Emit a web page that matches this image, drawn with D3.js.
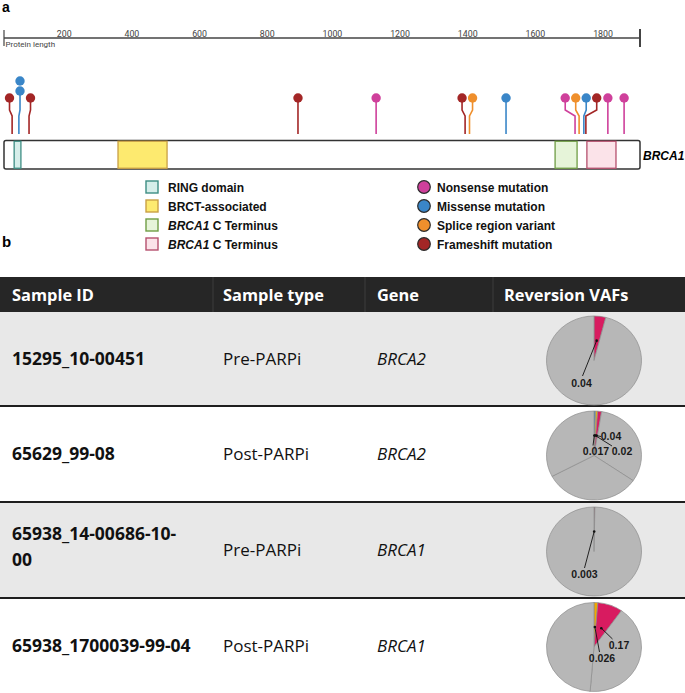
<!DOCTYPE html>
<html><head><meta charset="utf-8">
<script src="https://cdn.jsdelivr.net/npm/d3@7/dist/d3.min.js"></script>
<style>body{margin:0;background:#fff}svg{display:block}</style>
</head><body><svg id="c" width="685" height="693"></svg>
<script>
// ---------- data: panel a ----------
const proteinLength = 1880;
const axisTicks = [200, 400, 600, 800, 1000, 1200, 1400, 1600, 1800];
const geneName = "BRCA1";
const domainNames = ["RING domain", "BRCT-associated", "BRCA1 C Terminus", "BRCA1 C Terminus"];
const domainStart = [30, 337, 1629, 1723];
const domainEnd = [50, 482, 1694, 1809];
const mutTypeNames = ["Nonsense mutation", "Missense mutation", "Splice region variant", "Frameshift mutation"];
const mutPos = [24, 44, 44, 74, 869, 1100, 1363, 1376, 1484, 1688, 1700, 1714, 1720, 1785, 1833];
const mutType = ["Frameshift mutation", "Missense mutation", "Missense mutation", "Frameshift mutation",
  "Frameshift mutation", "Nonsense mutation", "Frameshift mutation", "Splice region variant",
  "Missense mutation", "Nonsense mutation", "Splice region variant", "Missense mutation",
  "Frameshift mutation", "Nonsense mutation", "Nonsense mutation"];

// ---------- data: panel b ----------
const headers = ["Sample ID", "Sample type", "Gene", "Reversion VAFs"];
const sampleIDs = ["15295_10-00451", "65629_99-08", "65938_14-00686-10-00", "65938_1700039-99-04"];
const sampleTypes = ["Pre-PARPi", "Post-PARPi", "Pre-PARPi", "Post-PARPi"];
const genes = ["BRCA2", "BRCA2", "BRCA1", "BRCA1"];
const reversionVAFs = [[0.04], [0.017, 0.02, 0.04], [0.003], [0.026, 0.17]];

// ---------- styles ----------
const domainFill = ["#d6eeea", "#fdea6f", "#e6f4d9", "#fbe3e9"];
const domainStroke = ["#3d8d83", "#c9a045", "#6f9d45", "#b5506e"];
const mutColor = {"Nonsense mutation": "#cf409b", "Missense mutation": "#3a86c8",
  "Splice region variant": "#ef8f2c", "Frameshift mutation": "#a32626"};
const vafColors = [["#d81b60"], ["#3b8cc0", "#e8b412", "#d81b60"], ["#9b1b3f"], ["#f1a900", "#d81b60"]];
// label layout (px offsets from pie centre): label centre, leader end
const vafLabelLayout = [
  [{lx: -12.5, ly: 22.5, ex: -11.5, ey: 15.5}],
  [{lx: 2, ly: -4, ex: -1, ey: -10}, {lx: 28, ly: -4, ex: 18, ey: -9.5}, {lx: 17, ly: -19, ex: 7, ey: -19}],
  [{lx: -9.5, ly: 23, ex: -9.5, ey: 16.5}],
  [{lx: 8, ly: 11.5, ex: 5.5, ey: 5}, {lx: 25, ly: -1.5, ex: 18.5, ey: -8}]
];

const svg = d3.select("#c");
const ARIAL = "'Liberation Sans', Arial, sans-serif";
const TABLEFONT = "'Open Sans', sans-serif";

// panel labels
svg.append("text").attr("x", 2).attr("y", 12).text("a")
  .attr("font-family", ARIAL).attr("font-weight", "bold").attr("font-size", 14);
svg.append("text").attr("x", 2).attr("y", 247).text("b")
  .attr("font-family", ARIAL).attr("font-weight", "bold").attr("font-size", 15);

// ---------- axis ----------
const x = d3.scaleLinear().domain([0, proteinLength]).range([4, 640]);
const axisY = 38;
svg.append("line").attr("x1", x(0)).attr("x2", x(proteinLength)).attr("y1", axisY).attr("y2", axisY)
  .attr("stroke", "#444").attr("stroke-width", 1.5);
svg.append("line").attr("x1", x(0)).attr("x2", x(0)).attr("y1", axisY - 8).attr("y2", axisY + 8)
  .attr("stroke", "#444").attr("stroke-width", 1.2);
svg.append("line").attr("x1", x(proteinLength)).attr("x2", x(proteinLength)).attr("y1", axisY - 9).attr("y2", axisY + 9)
  .attr("stroke", "#444").attr("stroke-width", 2);
svg.selectAll("text.tick").data(axisTicks).join("text").attr("class", "tick")
  .attr("x", d => x(d)).attr("y", axisY - 1.5).attr("text-anchor", "end")
  .attr("font-family", "Roboto, sans-serif").attr("font-size", 8.8).attr("fill", "#444").text(d => d);
svg.append("text").attr("x", x(0) + 1.5).attr("y", axisY + 8.5).text("Protein length")
  .attr("font-family", "Roboto, sans-serif").attr("font-size", 8).attr("fill", "#444");

// ---------- protein bar ----------
const barY = 140.5, barH = 28.5;
svg.append("rect").attr("x", x(0)).attr("y", barY).attr("width", x(proteinLength) - x(0)).attr("height", barH)
  .attr("rx", 2).attr("fill", "#fff").attr("stroke", "#333").attr("stroke-width", 1.5);
svg.selectAll("rect.dom").data(domainStart).join("rect").attr("class", "dom")
  .attr("x", d => x(d)).attr("y", barY + 0.75).attr("width", (d, i) => x(domainEnd[i]) - x(d)).attr("height", barH - 1.5)
  .attr("fill", (d, i) => domainFill[i]).attr("stroke", (d, i) => domainStroke[i]).attr("stroke-width", 1.3);
svg.append("text").attr("x", 643).attr("y", barY + 19).text(geneName)
  .attr("font-family", ARIAL).attr("font-weight", "bold").attr("font-style", "italic").attr("font-size", 12);

// ---------- lollipops ----------
const gap = 10.5;
const groups = d3.groups(mutPos.map((p, i) => ({p, t: mutType[i]})), d => d.p).sort((a, b) => a[0] - b[0]);
const place = cl => { const m = d3.mean(cl.sx), n = cl.sx.length; return cl.sx.map((s, i) => m + (i - (n - 1) / 2) * gap); };
let clusters = [];
groups.forEach(g => {
  clusters.push({gs: [g], sx: [x(g[0])]});
  while (clusters.length > 1) {
    const c = clusters[clusters.length - 1], pc = clusters[clusters.length - 2];
    if (place(c)[0] - place(pc).at(-1) < gap) {
      pc.gs = pc.gs.concat(c.gs); pc.sx = pc.sx.concat(c.sx); clusters.pop();
    } else break;
  }
});
const lolli = [];
clusters.forEach(cl => {
  const hx = place(cl);
  cl.gs.forEach((g, i) => {
    const n = g[1].length;
    const baseY = n > 1 ? 91 : 98;
    g[1].forEach((m, k) => lolli.push({sx: cl.sx[i], hx: hx[i], hy: baseY - k * 10, t: m.t, stem: k === 0, topY: baseY}));
  });
});
const stemBottom = 134;
svg.selectAll("path.stem").data(lolli.filter(d => d.stem)).join("path").attr("class", "stem")
  .attr("d", d => `M${d.hx},${d.topY}L${d.hx},110L${d.sx},116L${d.sx},${stemBottom}`)
  .attr("fill", "none").attr("stroke", d => mutColor[d.t]).attr("stroke-width", 1.6);
svg.selectAll("circle.head").data(lolli).join("circle").attr("class", "head")
  .attr("cx", d => d.hx).attr("cy", d => d.hy).attr("r", 4.7).attr("fill", d => mutColor[d.t]);

// ---------- legends ----------
const legRows = [187.5, 206.5, 225.5, 244.5];
const dl = svg.append("g");
domainNames.forEach((name, i) => {
  dl.append("rect").attr("x", 146).attr("y", legRows[i] - 6.5).attr("width", 12).attr("height", 12)
    .attr("fill", domainFill[i]).attr("stroke", domainStroke[i]).attr("stroke-width", 1.4);
  const t = dl.append("text").attr("x", 168).attr("y", legRows[i] + 4.3)
    .attr("font-family", ARIAL).attr("font-weight", "bold").attr("font-size", 12).attr("fill", "#111");
  if (name.startsWith("BRCA1 ")) {
    t.append("tspan").attr("font-style", "italic").text("BRCA1");
    t.append("tspan").text(name.slice(5));
  } else t.text(name);
});
mutTypeNames.forEach((name, i) => {
  dl.append("circle").attr("cx", 424).attr("cy", legRows[i] - 0.5).attr("r", 6.3)
    .attr("fill", mutColor[name]).attr("stroke", "#2a2a2a").attr("stroke-width", 1.2);
  dl.append("text").attr("x", 437).attr("y", legRows[i] + 4.3).text(name)
    .attr("font-family", ARIAL).attr("font-weight", "bold").attr("font-size", 12).attr("fill", "#111");
});

// ---------- table ----------
const colX = [0, 213, 365, 493, 685];
const textX = [12, 223, 377, 504];
const headTop = 277, headBot = 312;
const rowEdges = [312, 406, 502, 598, 693];
const t = svg.append("g");
t.append("rect").attr("x", 0).attr("y", headTop).attr("width", 685).attr("height", headBot - headTop).attr("fill", "#262626");
colX.slice(1, 4).forEach(cx => t.append("line").attr("x1", cx).attr("x2", cx).attr("y1", headTop).attr("y2", headBot)
  .attr("stroke", "#3c3c3c").attr("stroke-width", 1));
headers.forEach((h, i) => t.append("text").attr("x", textX[i]).attr("y", (headTop + headBot) / 2 + 6).text(h)
  .attr("font-family", TABLEFONT).attr("font-weight", "bold").attr("font-size", 16.4).attr("fill", "#fff"));

sampleIDs.forEach((id, r) => {
  const y0 = rowEdges[r], y1 = rowEdges[r + 1], cy = (y0 + y1) / 2;
  t.append("rect").attr("x", 0).attr("y", y0).attr("width", 685).attr("height", y1 - y0)
    .attr("fill", r % 2 === 0 ? "#e8e8e8" : "#ffffff");
  const idText = t.append("text").attr("font-family", TABLEFONT).attr("font-weight", "bold").attr("font-size", 17.5).attr("fill", "#111");
  if (id.length > 19) {
    const cut = id.lastIndexOf("-") + 1;
    idText.append("tspan").attr("x", textX[0]).attr("y", cy - 10).text(id.slice(0, cut));
    idText.append("tspan").attr("x", textX[0]).attr("y", cy + 16).text(id.slice(cut));
  } else {
    idText.attr("x", textX[0]).attr("y", cy + 6).text(id);
  }
  t.append("text").attr("x", textX[1]).attr("y", cy + 6).text(sampleTypes[r])
    .attr("font-family", TABLEFONT).attr("font-size", 17).attr("fill", "#111");
  t.append("text").attr("x", textX[2]).attr("y", cy + 6).text(genes[r])
    .attr("font-family", TABLEFONT).attr("font-style", "italic").attr("font-size", 17).attr("fill", "#111");
});
rowEdges.slice(1, 4).forEach(y => t.append("line").attr("x1", 0).attr("x2", 685).attr("y1", y).attr("y2", y)
  .attr("stroke", "#1e1e1e").attr("stroke-width", 2));

// ---------- pies ----------
const rx = 47.5, ry = 44.5, k = ry / rx;
const pieCX = 594;
const arc = d3.arc().innerRadius(0).outerRadius(rx);
const pie = d3.pie().sort(null).value(d => d.v);
reversionVAFs.forEach((vals, r) => {
  const n = vals.length;
  const parts = vals.map((v, i) => ({v: v / n, c: vafColors[r][i], lab: v, i}))
    .concat(vals.slice().reverse().map(v => ({v: (1 - v) / n, c: "#b7b7b7", lab: null})));
  const cy = (rowEdges[r] + rowEdges[r + 1]) / 2 + 1.5;
  const g = t.append("g").attr("transform", `translate(${pieCX},${cy})`);
  const pg = g.append("g").attr("transform", `scale(1,${k})`);
  const arcs = pie(parts);
  pg.selectAll("path").data(arcs).join("path").attr("d", arc)
    .attr("fill", d => d.data.c).attr("stroke", "#8c8c8c").attr("stroke-width", 0.7)
    .attr("vector-effect", "non-scaling-stroke");
  arcs.filter(d => d.data.lab !== null).forEach(d => {
    const L = vafLabelLayout[r][d.data.i];
    const a = (d.startAngle + d.endAngle) / 2;
    const ax = Math.sin(a) * rx * 0.45, ay = -Math.cos(a) * rx * 0.45 * k;
    g.append("line").attr("x1", ax).attr("y1", ay).attr("x2", L.ex).attr("y2", L.ey)
      .attr("stroke", "#111").attr("stroke-width", 0.9);
    g.append("circle").attr("cx", ax).attr("cy", ay).attr("r", 1.3).attr("fill", "#111");
    g.append("text").attr("x", L.lx).attr("y", L.ly + 3.7).attr("text-anchor", "middle").text(d.data.lab)
      .attr("font-family", ARIAL).attr("font-weight", "bold").attr("font-size", 10.5).attr("fill", "#1a1a1a");
  });
});
</script></body></html>
